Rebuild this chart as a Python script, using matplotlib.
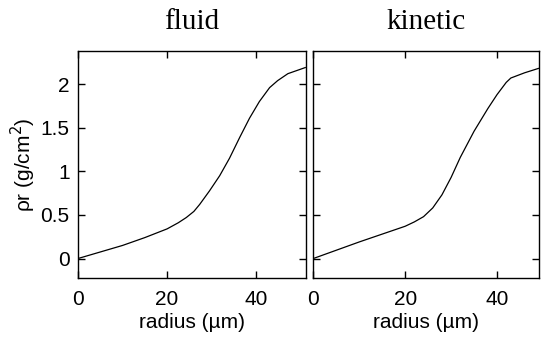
import matplotlib
matplotlib.use("Agg")
import matplotlib.pyplot as plt

fluid_r = [0, 5, 10, 15, 20, 22.5, 24.3, 26, 27.3, 29.5, 31.8, 34, 36.3, 38.5, 40.7, 43, 44.8, 47.1, 51]
fluid_pr = [0, 0.075, 0.15, 0.24, 0.34, 0.41, 0.47, 0.54, 0.62, 0.775, 0.95, 1.15, 1.39, 1.61, 1.80, 1.96, 2.04, 2.12, 2.19]

kin_r = [0, 5, 10, 15, 20, 22, 24, 26, 28, 30, 32, 35, 38, 40, 42, 43, 46, 49]
kin_pr = [0, 0.095, 0.19, 0.28, 0.37, 0.42, 0.48, 0.58, 0.73, 0.93, 1.16, 1.46, 1.72, 1.88, 2.02, 2.07, 2.13, 2.18]

titles = ["fluid", "kinetic"]
xticks = [0, 20, 40]
yticks = [0, 0.5, 1, 1.5, 2]
ytick_labels = ["0", "0.5", "1", "1.5", "2"]

plt.rcParams['font.family'] = ['Liberation Sans', 'DejaVu Sans']

fig = plt.figure(figsize=(5.46, 3.40), dpi=100)
axL = fig.add_axes([78/546, 62.3/340, 227.7/546, 226.7/340])
axR = fig.add_axes([313.3/546, 62.3/340, 226/546, 226.7/340])

for ax, r, pr, t, xmax in [(axL, fluid_r, fluid_pr, titles[0], 51.1), (axR, kin_r, kin_pr, titles[1], 49.2)]:
    ax.plot(r, pr, color='black', lw=0.9)
    ax.set_xlim(0, xmax)
    ax.set_ylim(-0.22, 2.38)
    ax.set_xticks(xticks)
    ax.set_yticks(yticks)
    ax.tick_params(direction='in', length=5, width=1, top=True, right=True,
                   labelsize=15, colors='black')
    ax.tick_params(axis='x', pad=9)
    ax.tick_params(axis='y', pad=6)
    for s in ax.spines.values():
        s.set_linewidth(1)
    ax.set_xlabel("radius (µm)", fontsize=15, labelpad=3)
    ax.set_title(t, family=['Liberation Serif'], fontsize=21, pad=16)

axL.set_yticklabels(ytick_labels)
axL.set_ylabel("ρr (g/cm$^2$)", fontsize=15, labelpad=2)
axR.tick_params(labelleft=False)

fig.savefig("out.png", dpi=100)
